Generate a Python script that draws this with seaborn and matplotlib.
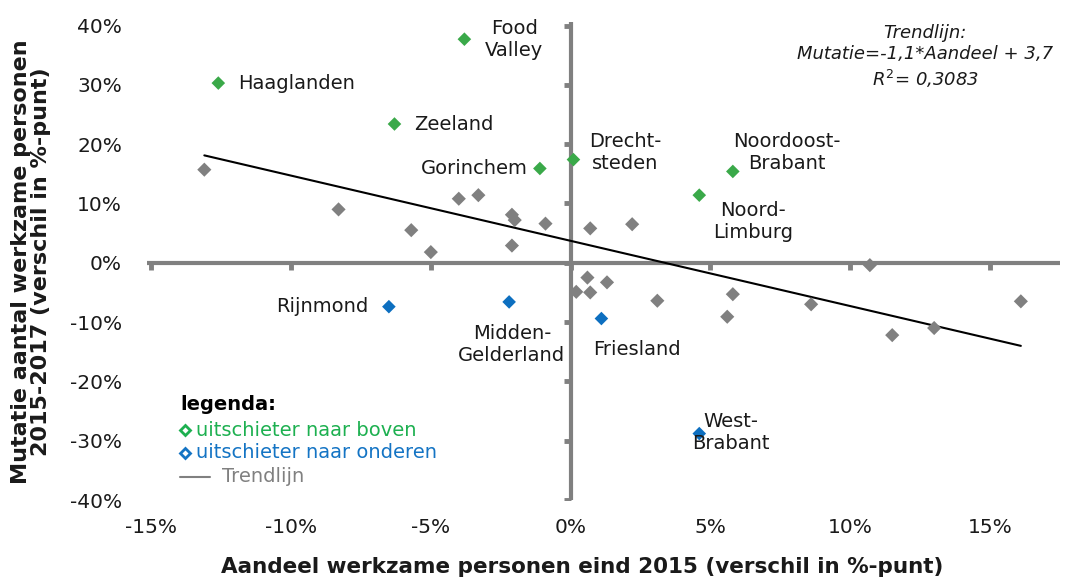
import matplotlib
matplotlib.use("Agg")
import matplotlib.pyplot as plt
import seaborn as sns
import pandas as pd
import numpy as np

# Regions above the trend (green)
up_names = ["Haaglanden", "Food\nValley", "Zeeland", "Gorinchem",
            "Drecht-\nsteden", "Noordoost-\nBrabant", "Noord-\nLimburg"]
up_x = [-12.6, -3.8, -6.3, -1.1, 0.1, 5.8, 4.6]
up_y = [30.3, 37.7, 23.4, 15.9, 17.4, 15.4, 11.4]

# Regions below the trend (blue)
down_names = ["Rijnmond", "Midden-\nGelderland", "Friesland", "West-\nBrabant"]
down_x = [-6.5, -2.2, 1.1, 4.6]
down_y = [-7.4, -6.6, -9.4, -28.8]

# Other regions (gray)
other_x = [-13.1, -8.3, -5.7, -5.0, -4.0, -3.3, -2.1, -2.0, -0.9, -2.1,
           0.7, 2.2, 0.6, 1.3, 0.2, 0.7, 3.1, 5.8, 5.6, 8.6, 10.7, 11.5, 13.0, 16.1]
other_y = [15.7, 9.0, 5.5, 1.8, 10.8, 11.4, 8.1, 7.2, 6.6, 2.9,
           5.8, 6.5, -2.5, -3.3, -4.9, -5.0, -6.4, -5.3, -9.1, -7.0, -0.4, -12.2, -11.0, -6.5]

slope = -1.1
intercept = 3.7
r2 = "0,3083"

x_ticks = [-15, -10, -5, 0, 5, 10, 15]
y_ticks = [-40, -30, -20, -10, 0, 10, 20, 30, 40]

GREEN = "#3aa949"
BLUE = "#0d6fc0"
GRAY = "#808080"
TXT = "#1a1a1a"

sns.set_style("white")
plt.rcParams['font.family'] = ['DejaVu Sans']

fig = plt.figure(figsize=(10.69, 5.78), dpi=100)
ax = fig.add_axes([147 / 1069, 78 / 578, 913 / 1069, 478 / 578])

df_other = pd.DataFrame({"x": other_x, "y": other_y})
df_up = pd.DataFrame({"x": up_x, "y": up_y, "name": up_names})
df_down = pd.DataFrame({"x": down_x, "y": down_y, "name": down_names})

# zero axes
ax.axhline(0, color=GRAY, lw=3, zorder=1)
ax.axvline(0, color=GRAY, lw=3, zorder=1)
ax.plot(x_ticks, [0] * len(x_ticks), ls="none", marker=3, ms=5, mew=3.5, color=GRAY, zorder=1)
ax.plot([0] * len(y_ticks), y_ticks, ls="none", marker=0, ms=5, mew=3.5, color=GRAY, zorder=1)

sns.scatterplot(data=df_other, x="x", y="y", ax=ax, marker="D", s=52,
                color=GRAY, edgecolor="none", zorder=3, legend=False)
sns.scatterplot(data=df_up, x="x", y="y", ax=ax, marker="D", s=48,
                color=GREEN, edgecolor="none", zorder=3, legend=False)
sns.scatterplot(data=df_down, x="x", y="y", ax=ax, marker="D", s=48,
                color=BLUE, edgecolor="none", zorder=3, legend=False)

# trend line over the data range
all_x = np.array(other_x + up_x + down_x)
tx = np.array([all_x.min(), all_x.max()])
ax.plot(tx, slope * tx + intercept, color="black", lw=1.5, zorder=2)

# labels: (dx, dy in points, ha)
offsets = {
    "Haaglanden": (14, 0, "left"),
    "Food\nValley": (36, 0, "center"),
    "Zeeland": (14, 0, "left"),
    "Gorinchem": (-9, 0, "right"),
    "Drecht-\nsteden": (37, 5, "center"),
    "Noordoost-\nBrabant": (39, 14, "center"),
    "Noord-\nLimburg": (39, -19, "center"),
    "Rijnmond": (-15, 0, "right"),
    "Midden-\nGelderland": (2, -31, "center"),
    "Friesland": (-6, -22, "left"),
    "West-\nBrabant": (23, 1, "center"),
}
for d in (df_up, df_down):
    for _, r in d.iterrows():
        dx, dy, ha = offsets[r["name"]]
        ax.annotate(r["name"], (r["x"], r["y"]), xytext=(dx, dy), textcoords="offset points",
                    ha=ha, va="center", fontsize=14, color=TXT, linespacing=1.2)

ax.set_xlim(-15.15, 17.5)
ax.set_ylim(-40, 40.6)
ax.set_xticks(x_ticks)
ax.set_yticks(y_ticks)
ax.set_xticklabels([f"{t}%" for t in x_ticks])
ax.set_yticklabels([f"{t}%" for t in y_ticks])
ax.tick_params(axis="both", length=0, labelsize=14.5, colors=TXT)
ax.tick_params(axis="x", pad=13)
ax.tick_params(axis="y", pad=18)
for s in ax.spines.values():
    s.set_visible(False)
ax.set_xlabel("")
ax.set_ylabel("")

fig.text(582 / 1069, 1 - 567 / 578, "Aandeel werkzame personen eind 2015 (verschil in %-punt)",
         ha="center", va="center", fontsize=15.5, fontweight="bold", color=TXT)
fig.text(31 / 1069, 1 - 262 / 578, "Mutatie aantal werkzame personen\n2015-2017 (verschil in %-punt)",
         ha="center", va="center", rotation=90, fontsize=16, fontweight="bold",
         color=TXT, linespacing=1.05)

fig.text(925 / 1069, 1 - 57 / 578,
         "Trendlijn:\nMutatie=-1,1*Aandeel + 3,7\n$R^2$= " + r2,
         ha="center", va="center", fontsize=13, style="italic", color=TXT,
         linespacing=1.25)

# manual legend
fig.text(180 / 1069, 1 - 405 / 578, "legenda:", fontsize=14, fontweight="bold",
         va="center", ha="left", color="black")
fig.text(196 / 1069, 1 - 430 / 578, "uitschieter naar boven", fontsize=14,
         va="center", ha="left", color="#1db050")
fig.text(196 / 1069, 1 - 453 / 578, "uitschieter naar onderen", fontsize=14,
         va="center", ha="left", color="#1474c4")
fig.text(222 / 1069, 1 - 477 / 578, "Trendlijn", fontsize=14,
         va="center", ha="left", color=GRAY)
fig.lines.append(plt.Line2D([185 / 1069], [1 - 430 / 578], transform=fig.transFigure,
                            marker="D", ms=5.5, mfc="white", mec="#1db050", mew=2, ls="none"))
fig.lines.append(plt.Line2D([185 / 1069], [1 - 453 / 578], transform=fig.transFigure,
                            marker="D", ms=5.5, mfc="white", mec="#1474c4", mew=2, ls="none"))
fig.lines.append(plt.Line2D([180 / 1069, 210 / 1069], [1 - 477 / 578] * 2, transform=fig.transFigure,
                            color=GRAY, lw=1.5))

fig.savefig("out.png", dpi=100)
